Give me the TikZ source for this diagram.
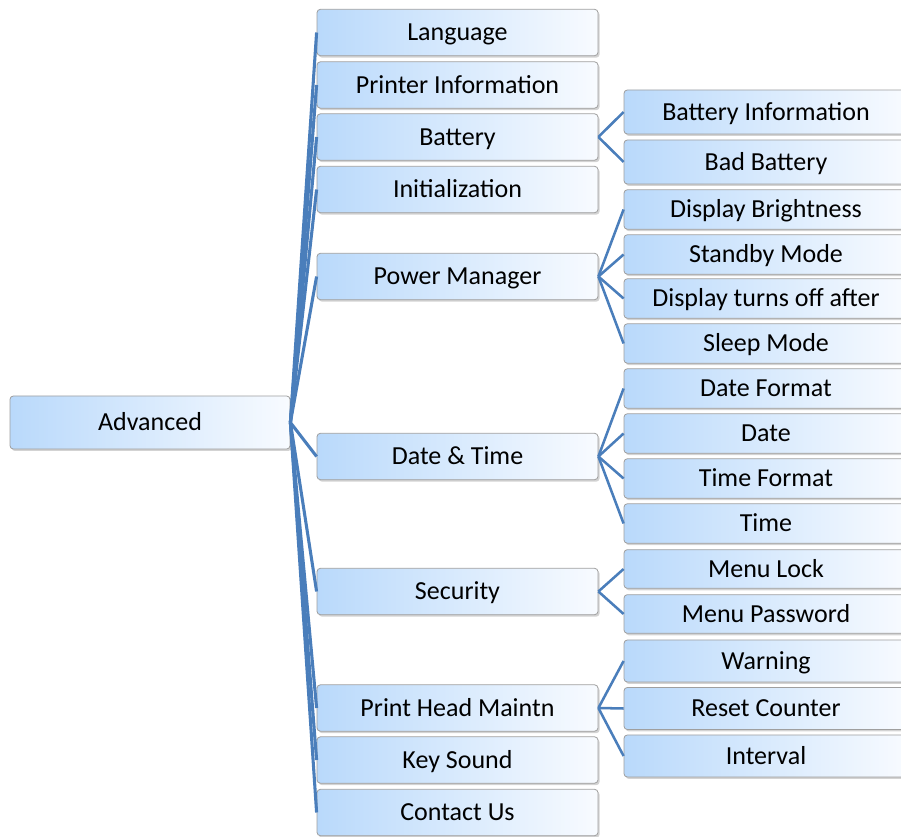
\documentclass[tikz,border=0pt]{standalone}
\usepackage{fontspec}
\setmainfont{Carlito}
\usetikzlibrary{shadows}
\definecolor{linkblue}{HTML}{4A7EBB}
\definecolor{boxblue}{HTML}{B9D9FB}
\definecolor{boxmid}{HTML}{E2EEFD}
\definecolor{boxwhite}{HTML}{F8FBFF}

\begin{document}
\begin{tikzpicture}[x=0.75pt, y=-0.75pt,
    menu/.style={draw=gray!75, line width=0.6pt, rounded corners=2.5pt,
        left color=boxblue, middle color=boxmid, right color=boxwhite,
        drop shadow={shadow xshift=1.2pt, shadow yshift=-1.5pt, opacity=0.35},
        inner sep=0pt, text height=12.5pt, text depth=0pt,
        font=\fontsize{19.5}{22}\selectfont},
    link/.style={linkblue, line width=2.3pt},
    sublink/.style={linkblue, line width=1.9pt}]
    \useasboundingbox (0,0) rectangle (901,837);
    % root
    \node[menu, minimum width=210pt, minimum height=39.75pt] (adv) at (150,422.5) {Advanced};
    % first level
    \foreach \n/\y/\t in {
        lang/32.5/Language,
        info/85/Printer Information,
        bat/137/Battery,
        init/189.5/Initialization,
        power/276.5/Power Manager,
        dt/456.5/Date \& Time,
        sec/591.5/Security,
        head/708/Print Head Maintn,
        key/760/Key Sound,
        contact/812.5/Contact Us}
    {
        \node[menu, minimum width=210.75pt, minimum height=34.75pt] (\n) at (457.5,\y) {\t};
    }
    % second level
    \foreach \n/\y/\h/\t in {
        binfo/112/33/Battery Information,
        bbad/162/33/Bad Battery,
        bright/209.5/29.6/Display Brightness,
        standby/254.5/29.6/Standby Mode,
        dispoff/298.5/29.6/Display turns off after,
        sleep/343.5/29.6/Sleep Mode,
        dfmt/388.5/29.6/Date Format,
        date/433.5/29.6/Date,
        tfmt/478.5/29.6/Time Format,
        time/523.5/29.6/Time,
        mlock/569/29/Menu Lock,
        mpass/614/29/Menu Password,
        warn/661/31.5/Warning,
        reset/708.5/31.5/Reset Counter,
        intv/756/31.5/Interval}
    {
        \node[menu, minimum width=213pt, minimum height=\h pt] (\n) at (766,\y) {\t};
    }
    % connectors
    \foreach \c in {lang,info,bat,init,power,dt,sec,head,key,contact}
        \draw[link] (adv.east) -- (\c.west);
    \foreach \p/\c in {bat/binfo, bat/bbad,
        power/bright, power/standby, power/dispoff, power/sleep,
        dt/dfmt, dt/date, dt/tfmt, dt/time,
        sec/mlock, sec/mpass,
        head/warn, head/reset, head/intv}
        \draw[sublink] (\p.east) -- (\c.west);
\end{tikzpicture}
\end{document}
